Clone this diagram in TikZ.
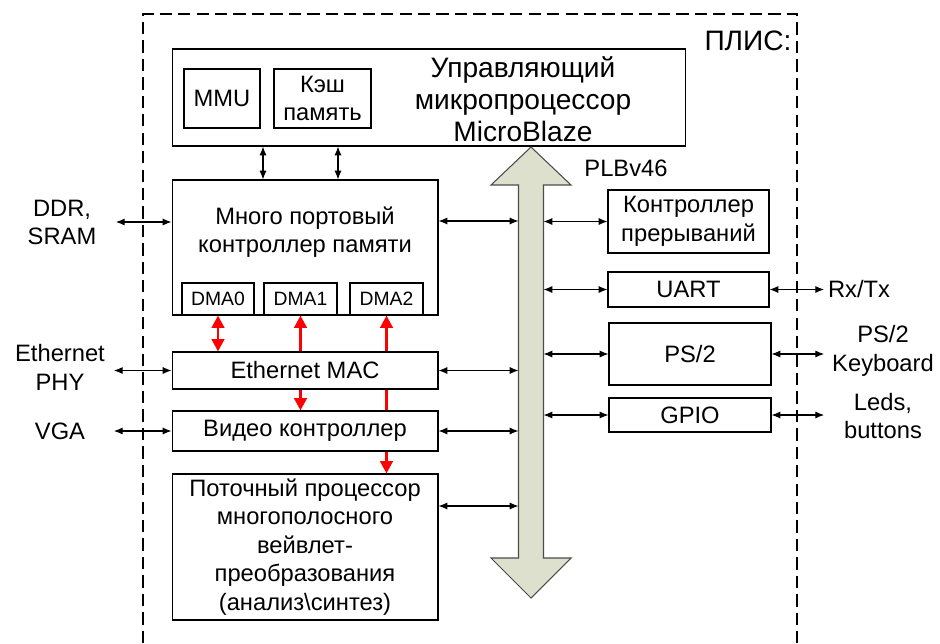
\documentclass[tikz,border=0pt]{standalone}
\usepackage{fontspec}
\setmainfont{Liberation Sans}
\usetikzlibrary{arrows.meta}

\definecolor{shinacolor}{RGB}{221,224,204}

\begin{document}
\begin{tikzpicture}[x=0.02cm,y=-0.02cm,
  blok/.style = {draw, line width=0.6pt, inner sep=0pt, align=center, font=\fontsize{13.5}{16.3}\selectfont},
  dmablok/.style = {blok, font=\fontsize{11}{13}\selectfont},
  bigtxt/.style = {inner sep=0pt, align=center, font=\fontsize{16}{18.2}\selectfont},
  txt/.style = {inner sep=0pt, align=center, font=\fontsize{13.5}{16.3}\selectfont},
  extL/.style = {txt, text width=2cm, inner xsep=2pt},
  extR/.style = {txt, text width=2.2cm, inner xsep=2pt},
  svyaz/.style = {line width=0.6pt, {Latex[length=5pt,width=4pt]}-{Latex[length=5pt,width=4pt]}},
  dma/.style = {line width=1.7pt, red, arrows={-Triangle[length=7pt,width=7pt]}}
  ]
\useasboundingbox (0,0) rectangle (940,643);

% ПЛИС
\draw[line width=0.6pt, dash pattern=on 7pt off 3.5pt] (143,643) -- (143,14) -- (797,14) -- (797,643);
\node[bigtxt] (plis) at (748,41) {ПЛИС:};

% процессор
\node[blok, minimum width=10.28cm, minimum height=1.94cm] (cpu) at (429,97.5) {};
\node[bigtxt] (cpulbl) at (523,99) {Управляющий\\микропроцессор\\MicroBlaze};
\node[blok, minimum width=1.52cm, minimum height=1.18cm] (mmu) at (222,98.5) {MMU};
\node[blok, minimum width=1.94cm, minimum height=1.18cm] (cache) at (322.5,98.5) {Кэш\\память};

% левая колонка
\node[blok, minimum width=5.32cm, minimum height=2.7cm] (mem) at (305,247.5) {};
\node[txt] (memlbl) at (305,232) {Много портовый\\контроллер памяти};
\node[dmablok, minimum width=1.44cm, minimum height=0.64cm] (dma0) at (218,299) {DMA0};
\node[dmablok, minimum width=1.46cm, minimum height=0.64cm] (dma1) at (300.5,299) {DMA1};
\node[dmablok, minimum width=1.46cm, minimum height=0.64cm] (dma2) at (386.5,299) {DMA2};
\node[blok, minimum width=5.32cm, minimum height=0.74cm] (eth) at (305,370.5) {Ethernet MAC};
\node[blok, minimum width=5.32cm, minimum height=0.8cm] (video) at (305,431) {Видео контроллер};
\node[blok, minimum width=5.32cm, minimum height=2.92cm] (stream) at (305,547)
  {Поточный процессор\\многополосного\\вейвлет-\\преобразования\\(анализ\textbackslash синтез)};

% шина
\draw[line width=0.6pt, draw=black!70, fill=shinacolor] (531,147) -- (571,185) -- (543.5,185) -- (543.5,558)
  -- (571,558) -- (531,598) -- (491,558) -- (518.5,558) -- (518.5,185) -- (491,185) -- cycle;
\coordinate (busL) at (518.5,0);
\coordinate (busR) at (543.5,0);
\node[txt] (plb) at (626,168) {PLBv46};

% правая колонка
\node[blok, minimum width=3.22cm, minimum height=1.26cm] (irq) at (688.5,221.5) {Контроллер\\прерываний};
\node[blok, minimum width=3.22cm, minimum height=0.7cm] (uart) at (688.5,289.5) {UART};
\node[blok, minimum width=3.24cm, minimum height=1.24cm] (ps2) at (690,354) {PS/2};
\node[blok, minimum width=3.24cm, minimum height=0.68cm] (gpio) at (690,415) {GPIO};

% внешние
\node[extL] (ddr) at (62,222.5) {DDR,\\SRAM};
\node[extL] (phy) at (60,367.5) {Ethernet\\PHY};
\node[extL] (vga) at (60,431) {VGA};
\node[extR, align=left] (rxtx) at (883,289) {Rx/Tx};
\node[extR] (kbd) at (883,351) {PS/2\\Keyboard};
\node[extR] (leds) at (883,416) {Leds,\\buttons};

% связи
\draw[svyaz] (cpu.south -| 263,0) -- (mem.north -| 263,0);
\draw[svyaz] (cpu.south -| 338,0) -- (mem.north -| 338,0);
\draw[svyaz] (ddr.east |- 0,222) -- (mem.west |- 0,222);
\draw[svyaz] (phy.east |- eth.west) -- (eth.west);
\draw[svyaz] (vga.east |- video.west) -- (video.west);
\draw[svyaz] (mem.east |- 0,221) -- (busL |- 0,221);
\draw[svyaz] (eth.east) -- (busL |- eth.east);
\draw[svyaz] (video.east) -- (busL |- video.east);
\draw[svyaz] (stream.east |- 0,506) -- (busL |- 0,506);
\draw[svyaz] (busR |- irq.west) -- (irq.west);
\draw[svyaz] (busR |- uart.west) -- (uart.west);
\draw[svyaz] (busR |- ps2.west) -- (ps2.west);
\draw[svyaz] (busR |- gpio.west) -- (gpio.west);
\draw[svyaz] (uart.east) -- (rxtx.west |- uart.east);
\draw[svyaz] (ps2.east) -- (kbd.west |- ps2.east);
\draw[svyaz] (gpio.east) -- (leds.west |- gpio.east);

% DMA
\draw[dma, arrows={Triangle[length=7pt,width=7pt]-Triangle[length=7pt,width=7pt]}] (dma0.south) -- (eth.north -| dma0.south);
\draw[dma, arrows={Triangle[length=7pt,width=7pt]-}] (dma1.south) -- (eth.north -| dma1.south);
\draw[dma] (eth.south -| dma1.south) -- (video.north -| dma1.south);
\draw[dma, arrows={Triangle[length=7pt,width=7pt]-}] (dma2.south) -- (eth.north -| dma2.south);
\draw[dma, arrows=-] (eth.south -| dma2.south) -- (video.north -| dma2.south);
\draw[dma] (video.south -| dma2.south) -- (stream.north -| dma2.south);

\end{tikzpicture}
\end{document}
